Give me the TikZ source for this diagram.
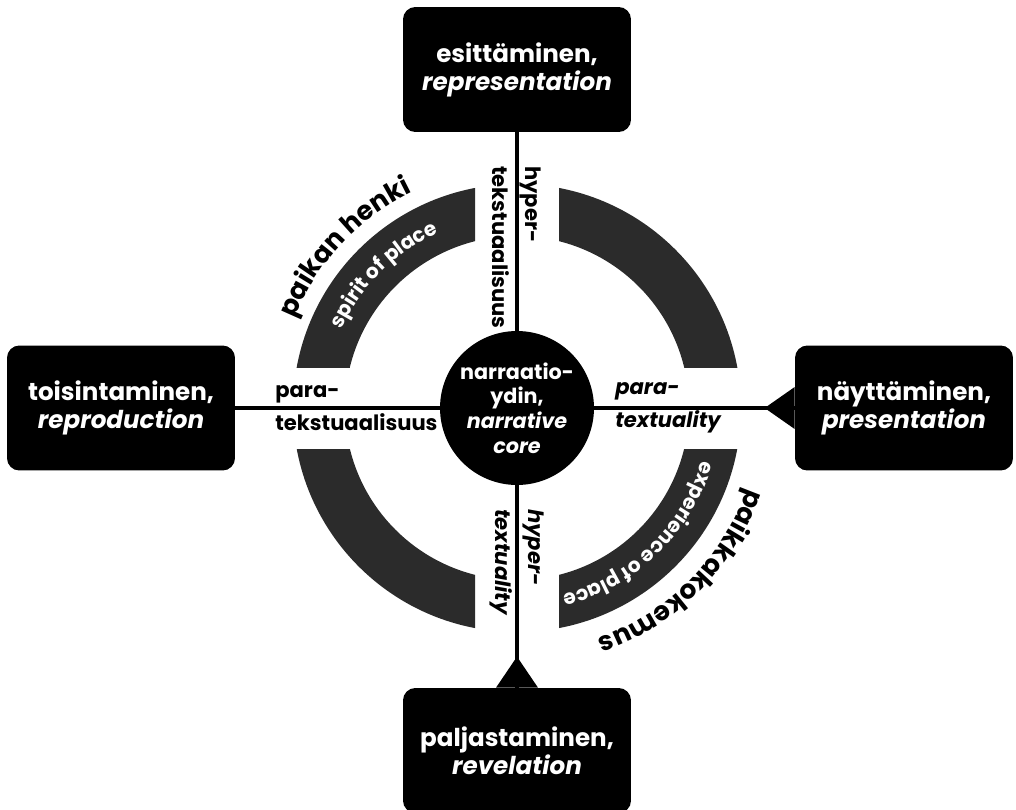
\documentclass[tikz,border=0pt]{standalone}
\usepackage{fontspec}
\setmainfont{Poppins}
\usetikzlibrary{decorations.text}

\begin{document}
\begin{tikzpicture}[x=0.02cm, y=0.02cm,
  mode/.style={rectangle, rounded corners=7pt, fill=black, text=white, font=\fontsize{14}{16}\selectfont\bfseries, align=center, minimum width=4.56cm, minimum height=2.5cm},
  core/.style={circle, fill=black, text=white, font=\fontsize{11.8}{14}\selectfont\bfseries, align=center, minimum size=3.08cm, inner sep=0pt},
  link/.style={line width=2.2pt},
  lbl/.style={font=\fontsize{12}{19}\selectfont\bfseries, align=left, inner sep=0pt},
  arctxt/.style={decorate, decoration={text along path, text align=center, text color=white, text={#1}}},
  outtxt/.style={decorate, decoration={text along path, text align=center, text={#1}}}
]
\useasboundingbox (-517,-401) rectangle (499,408);

% Ring (four quarters)
\foreach \sx/\sy in {1/1,-1/1,-1/-1,1/-1} {
  \begin{scope}
    \clip (\sx*42,\sy*41) rectangle (\sx*300,\sy*300);
    \fill[black!83, even odd rule] (0,0) circle[radius=224] (0,0) circle[radius=172];
  \end{scope}
}

% Modes
\node[mode] (top) at (0,338.5) {esittäminen,\\\textit{representation}};
\node[mode] (left) at (-396,0) {toisintaminen,\\\textit{reproduction}};
\node[mode, minimum width=4.36cm] (right) at (387,0) {näyttäminen,\\\textit{presentation}};
\node[mode] (bot) at (0,-342.5) {paljastaminen,\\\textit{revelation}};

% Core
\node[core] (core) at (0,0) {narraatio-\\ydin,\\\textit{narrative}\\\textit{core}};

% Links
\draw[link] (top) -- (core);
\draw[link] (core) -- (bot);
\draw[link] (left) -- (core);
\draw[link] (core) -- (right);

% Arrowheads
\fill (right.west) ++(0,21) -- ++(-30,-21) -- ++(30,-21) -- cycle;
\fill (bot.north) ++(-21,0) -- ++(21,31) -- ++(21,-31) -- cycle;

% Link labels
\node[lbl, rotate=-90, anchor=west] (hyp1) at (0,242) {hyper-\\tekstuaalisuus};
\node[lbl, rotate=-90, anchor=west] (hyp2) at (0,-101) {\itshape hyper-\\\itshape textuality};
\node[lbl, anchor=west] (para1) at (-242,0) {para-\\tekstuaalisuus};
\node[lbl, anchor=west] (para2) at (98,0) {\itshape para-\\\itshape textuality};

% Arc texts
\path[arctxt={|\fontsize{11.5}{13}\selectfont\bfseries|spirit of place}] (162:192) arc[start angle=162, end angle=108, radius=192];
\path[outtxt={|\fontsize{15}{17}\selectfont\bfseries|paikan henki}] (170:240) arc[start angle=170, end angle=104, radius=240];
\path[arctxt={|\fontsize{11.5}{13}\selectfont\bfseries|experience of place}] (-6:192) arc[start angle=-6, end angle=-86, radius=192];
\path[outtxt={|\fontsize{15}{17}\selectfont\bfseries|paikkakokemus}] (-10:244) arc[start angle=-10, end angle=-80, radius=244];

\end{tikzpicture}
\end{document}
